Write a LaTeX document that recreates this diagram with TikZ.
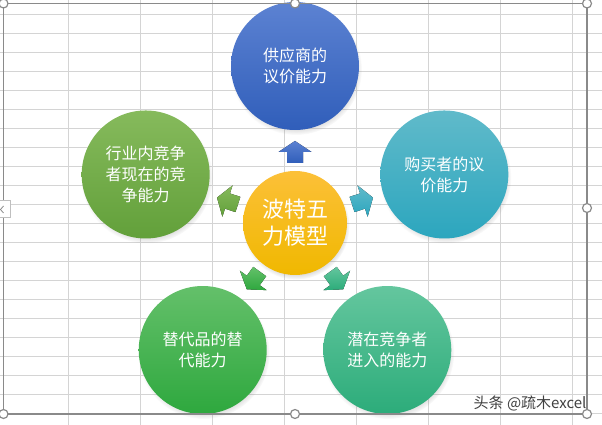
\documentclass[tikz,border=0pt]{standalone}
\usepackage{fontspec}
\newfontfamily\cjk{Noto Sans CJK SC}
\usetikzlibrary{calc,shadows}

\definecolor{gridgray}{RGB}{212,212,212}
\definecolor{framegray}{RGB}{138,138,138}
\definecolor{supA}{RGB}{92,130,210}  \definecolor{supB}{RGB}{48,94,186}
\definecolor{buyA}{RGB}{96,186,202}  \definecolor{buyB}{RGB}{44,166,190}
\definecolor{entA}{RGB}{100,198,158} \definecolor{entB}{RGB}{44,172,122}
\definecolor{subA}{RGB}{100,192,106} \definecolor{subB}{RGB}{46,168,62}
\definecolor{rivA}{RGB}{134,186,92}  \definecolor{rivB}{RGB}{98,160,58}
\definecolor{coreA}{RGB}{252,192,56} \definecolor{coreB}{RGB}{240,184,0}

\tikzset{
  ball/.style={circle, inner sep=0pt, align=center, text=white,
    circular drop shadow={shadow xshift=1pt, shadow yshift=-3pt, shadow scale=1.03, opacity=.4}},
  force/.style={ball, minimum size=128pt, font=\cjk\fontsize{16}{21}\selectfont},
  hub/.style={ball, minimum size=104pt, font=\cjk\fontsize{22}{27}\selectfont},
  handle/.style={circle, draw=framegray, fill=white, line width=1.2pt, minimum size=9pt, inner sep=0pt}
}

\begin{document}
\begin{tikzpicture}[x=1pt, y=1pt]
  \useasboundingbox (0,0) rectangle (602,425);
  % sheet grid
  \foreach \r in {0,...,21}
    \draw[gridgray, line width=0.8pt] (0,{411-19*\r}) -- (602,{411-19*\r});
  \foreach \c in {68,140,...,572}
    \draw[gridgray, line width=0.8pt] (\c,0) -- (\c,425);

  \node[hub, top color=coreA, bottom color=coreB] (core) at (295,202) {波特五\\力模型};
  \node[force, top color=supA, bottom color=supB] (supplier) at ($(core)+(90:157)$) {供应商的\\议价能力};
  \node[force, top color=buyA, bottom color=buyB] (buyer) at ($(core)+(18:157)$) {购买者的议\\价能力};
  \node[force, top color=entA, bottom color=entB] (entrant) at ($(core)+(-54:157)$) {潜在竞争者\\进入的能力};
  \node[force, top color=subA, bottom color=subB] (substitute) at ($(core)+(-126:157)$) {替代品的替\\代能力};
  \node[force, top color=rivA, bottom color=rivB] (rival) at ($(core)+(162:157)$) {行业内竞争\\者现在的竞\\争能力};

  % block arrows
  \foreach \a/\ca/\cb in {90/supA/supB, 18/buyA/buyB, -54/entA/entB, -126/subA/subB, 162/rivA/rivB}
    \fill[top color=\ca, bottom color=\cb, shift={($(core)+(\a:71)$)}, rotate=\a-90]
      (0,11) -- (16.5,0) -- (8,0) -- (8,-11) -- (-8,-11) -- (-8,0) -- (-16.5,0) -- cycle;

  % selection frame
  \draw[framegray, line width=1.2pt] (3.5,11) rectangle (587,421.5);
  \foreach \p [count=\i] in {(3.5,421.5), (295,421.5), (587,421.5), (587,217), (587,11), (295,11), (3.5,11)}
    \node[handle] (h\i) at \p {};
  \draw[gray!50, fill=white] (-1,208) rectangle (10,225);
  \draw[framegray, line width=0.8pt] (3.5,219) -- (0.5,215.5) -- (3.5,212);

  \node[anchor=east, text=black!75, font=\cjk\fontsize{15}{15}\selectfont] (mark) at (590,22) {头条 @疏木excel};
\end{tikzpicture}
\end{document}
